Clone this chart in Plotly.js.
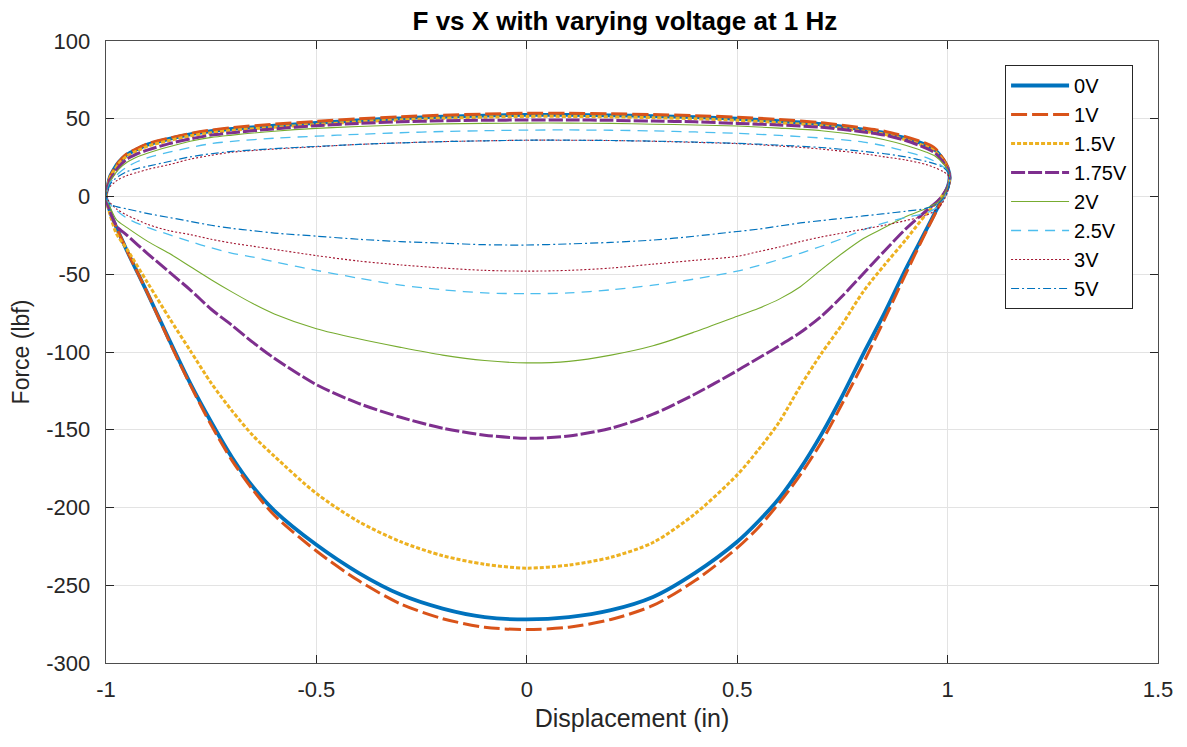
<!DOCTYPE html>
<html>
<head>
<meta charset="utf-8">
<script src="https://cdn.plot.ly/plotly-3.0.1.min.js"></script>
<style>
  html, body { margin: 0; padding: 0; background: #ffffff; }
  #chart { width: 1187px; height: 747px; }
</style>
</head>
<body>
<div id="chart"></div>
<script>
// ---------------- data ----------------
const seriesNames = ['0V', '1V', '1.5V', '1.75V', '2V', '2.5V', '3V', '5V'];

// displacement samples of the upper (positive force) branch, left to right
const upperX = [-1, -0.995, -0.99, -0.98, -0.97, -0.95, -0.925, -0.9, -0.85, -0.8, -0.75, -0.7,
  -0.6, -0.5, -0.4, -0.3, -0.2, -0.1, 0, 0.1, 0.2, 0.3, 0.4, 0.5, 0.6, 0.7, 0.8, 0.85, 0.9,
  0.95, 0.97, 0.99, 1.0, 1.005];

// displacement samples of the lower (negative force) branch, left to right
const lowerX = [-1, -0.99, -0.975, -0.95, -0.9, -0.85, -0.8, -0.75, -0.7, -0.65, -0.6, -0.5,
  -0.4, -0.3, -0.2, -0.1, 0, 0.1, 0.2, 0.3, 0.4, 0.5, 0.55, 0.6, 0.65, 0.7, 0.75, 0.8, 0.85,
  0.9, 0.95, 0.98, 1.0, 1.005];

// upper branch force (lbf)
const upper0V   = [0,8,13,18,22,27,30.5,33.5,37,40,42,43.5,45.5,47.3,49,50.3,51.3,52,52.5,52.5,52.2,51.7,51,50,48.5,46.5,43,41,37.5,33,30,23.5,18.5,12];
const upper1V   = [0,8,13,18,22,27.5,31,34,37.5,40.5,42.7,44.3,46.5,48.3,50,51.3,52.3,53,53.5,53.5,53.2,52.7,52,51,49.5,47.5,44,42,38.5,34,31,24,19,12];
const upper1_5V = [0,7.5,12.5,17,21,26,29.5,32.5,36,39,41,42.5,44.5,46.3,48,49.3,50.3,51,51.5,51.5,51.2,50.7,50,49,47.5,45.5,42,40,36.5,32,29,23,18,12];
const upper1_75V= [0,7,11,15,19,24,27.5,30,34,37,39.5,41,43.5,45.5,47,48,48.7,49,49.2,49.2,49,48.5,48,47,46,44.5,41.5,39.5,36,31,28,22,18,12];
const upper2V   = [0,6,10,14,17.5,22,25.5,28,32,35.5,38,39.5,42,43.8,45,46,46.7,47,47.2,47.2,47,46.5,46,45.3,44,42.3,39,36.5,33,28.5,26,21,17,12];
const upper2_5V = [0,5,9,12,15,19,22.5,25,28.5,31.5,34,35.5,37.5,38.8,40,41,41.8,42.3,42.7,42.8,42.6,42.2,41.5,40.6,39.3,37.6,35,32.5,29,25,22.5,19,16,12];
const upper3V   = [0,4,6.5,9,11,13.5,15.5,17.5,20.5,24,26.5,28.5,30.5,32,33.5,34.5,35.3,35.8,36.2,36.2,36,35.5,34.8,34,32.5,30.5,27.5,25.5,23.5,20.5,18.5,16,14,12];
const upper5V   = [0,5,8,11,13,16,18,19.5,22.5,25.5,27.5,29,30.8,32.2,33.5,34.5,35.3,35.8,36.2,36.2,36,35.6,35,34.2,33,31.5,29,27.5,25.5,22.5,21,18.5,16,12];

// lower branch force (lbf)
const lower0V   = [0,-10,-20,-35,-63,-92,-120,-145,-168,-187,-202,-224,-242,-256,-265,-270.5,-272,-270.5,-266,-257.5,-242,-222,-209,-194,-175,-153,-128,-101,-75,-47,-21,-5,6,12];
const lower1V   = [0,-10,-20,-35,-63,-93,-121,-147,-170,-189,-205,-228,-247,-262,-271.5,-277,-278.5,-277,-272,-263,-247,-226,-213,-197,-179,-158,-133,-107,-79,-50,-22,-6,5,12];
const lower1_5V = [0,-12,-24,-34,-56,-78,-99,-120,-138,-154,-167,-191,-209,-222,-231,-236.5,-239,-237,-232,-222.5,-204,-179,-163,-145,-122,-101,-82,-61,-44,-28,-11,-2,6,12];
const lower1_75V= [0,-10,-19,-25,-37,-48.5,-60,-72.5,-83,-94,-104,-121,-133,-142,-149,-153.5,-155.5,-154,-149,-140,-127,-112,-104,-96,-87.5,-77,-64,-49.5,-35,-21,-9,-2,6,12];
const lower2V   = [0,-7,-15,-20,-29,-36.5,-45,-53.5,-61.5,-69,-75.5,-85,-91.5,-97,-102,-105.5,-107,-106,-102,-96,-87,-77,-72,-66,-58,-47,-36.5,-27,-20,-13,-7.5,-3,6,12];
const lower2_5V = [0,-5,-9,-14,-20,-24.5,-29,-33,-36.5,-39,-42,-47.5,-52.5,-57,-60,-62,-62.5,-62,-60,-57,-53,-48,-44.5,-40.5,-36.5,-32,-27,-21.5,-17,-13.5,-10.5,-6,4,12];
const lower3V   = [0,-4,-8,-12,-18,-22,-24.5,-27.5,-30,-32,-34,-38,-41.5,-44,-46,-47.5,-48,-47.5,-46,-43.5,-41,-38.5,-35.5,-32.5,-29,-26,-23.5,-21,-18.5,-15.5,-12,-7,3,12];
const lower5V   = [0,-5,-6.5,-8,-11,-13.5,-16,-18.5,-20.5,-22,-23.5,-25.5,-27.5,-29,-30,-31,-31.2,-30.5,-29.5,-28,-25.5,-22.5,-21,-19,-17,-15.5,-14,-12.5,-11,-9.5,-7.5,-4,3,12];

const upperSets = [upper0V, upper1V, upper1_5V, upper1_75V, upper2V, upper2_5V, upper3V, upper5V];
const lowerSets = [lower0V, lower1V, lower1_5V, lower1_75V, lower2V, lower2_5V, lower3V, lower5V];

// tick labels
const xTickVals = [-1, -0.5, 0, 0.5, 1, 1.5];
const xTickText = ['-1', '-0.5', '0', '0.5', '1', '1.5'];
const yTickVals = [-300, -250, -200, -150, -100, -50, 0, 50, 100];
const yTickText = ['-300', '-250', '-200', '-150', '-100', '-50', '0', '50', '100'];

// ---------------- styles ----------------
const styles = [
  {color: '#0072BD', width: 3.8, dash: 'solid'},
  {color: '#D95319', width: 3,   dash: '16px,5px'},
  {color: '#EDB120', width: 3,   dash: '4px,2px'},
  {color: '#7E2F8E', width: 3,   dash: '14px,3px'},
  {color: '#77AC30', width: 1.1, dash: 'solid'},
  {color: '#4DBEEE', width: 1.3, dash: '10px,7px'},
  {color: '#A2142F', width: 1.1, dash: '2px,2px'},
  {color: '#0072BD', width: 1.2, dash: '8px,3px,2px,3px'}
];

const traces = seriesNames.map((name, i) => {
  // lower branch walked right-to-left, skipping the shared right-tip point
  const lx = lowerX.slice().reverse().slice(1);
  const ly = lowerSets[i].slice().reverse().slice(1);
  return {
    type: 'scatter',
    mode: 'lines',
    name: name,
    x: upperX.concat(lx),
    y: upperSets[i].concat(ly),
    line: {color: styles[i].color, width: styles[i].width, dash: styles[i].dash,
           shape: 'spline', smoothing: 0.8},
    hoverinfo: 'skip'
  };
});

const fontFam = '"Liberation Sans", Arial, Helvetica, sans-serif';
const axisCol = '#262626';

const layout = {
  width: 1187,
  height: 747,
  paper_bgcolor: '#ffffff',
  plot_bgcolor: '#ffffff',
  margin: {l: 106, r: 29, t: 41, b: 84, pad: 0},
  font: {family: fontFam, color: axisCol},
  title: {
    text: '<b>F vs X with varying voltage at 1 Hz</b>',
    font: {family: fontFam, size: 26, color: '#000000'},
    x: 0.4933, xref: 'paper', xanchor: 'center',
    y: 0.972, yref: 'container', yanchor: 'middle'
  },
  xaxis: {
    range: [-1, 1.5],
    tickvals: xTickVals,
    ticktext: xTickText,
    ticks: 'inside',
    ticklen: 8,
    tickwidth: 1,
    tickcolor: axisCol,
    showline: true,
    linecolor: '#4d4d4d',
    linewidth: 1.3,
    mirror: 'ticks',
    showgrid: true,
    gridcolor: '#e3e3e3',
    gridwidth: 1,
    zeroline: false,
    tickfont: {family: fontFam, size: 22, color: axisCol},
    ticklabelstandoff: 6,
    title: {text: 'Displacement (in)', font: {family: fontFam, size: 25, color: axisCol}, standoff: 8}
  },
  yaxis: {
    range: [-300, 100],
    tickvals: yTickVals,
    ticktext: yTickText,
    ticks: 'inside',
    ticklen: 8,
    tickwidth: 1,
    tickcolor: axisCol,
    showline: true,
    linecolor: '#4d4d4d',
    linewidth: 1.3,
    mirror: 'ticks',
    showgrid: true,
    gridcolor: '#e3e3e3',
    gridwidth: 1,
    zeroline: false,
    tickfont: {family: fontFam, size: 22, color: axisCol},
    ticklabelstandoff: 10,
    title: {text: 'Force (lbf)', font: {family: fontFam, size: 23, color: axisCol}, standoff: 10}
  },
  showlegend: true,
  legend: {
    x: 0.9763, xanchor: 'right', xref: 'paper',
    y: 0.9614, yanchor: 'top', yref: 'paper',
    bgcolor: '#ffffff',
    bordercolor: '#262626',
    borderwidth: 1,
    font: {family: fontFam, size: 20, color: '#000000'},
    itemwidth: 58,
    tracegroupgap: 0,
    traceorder: 'normal'
  }
};

Plotly.newPlot('chart', traces, layout, {staticPlot: true, displayModeBar: false});
</script>
</body>
</html>
